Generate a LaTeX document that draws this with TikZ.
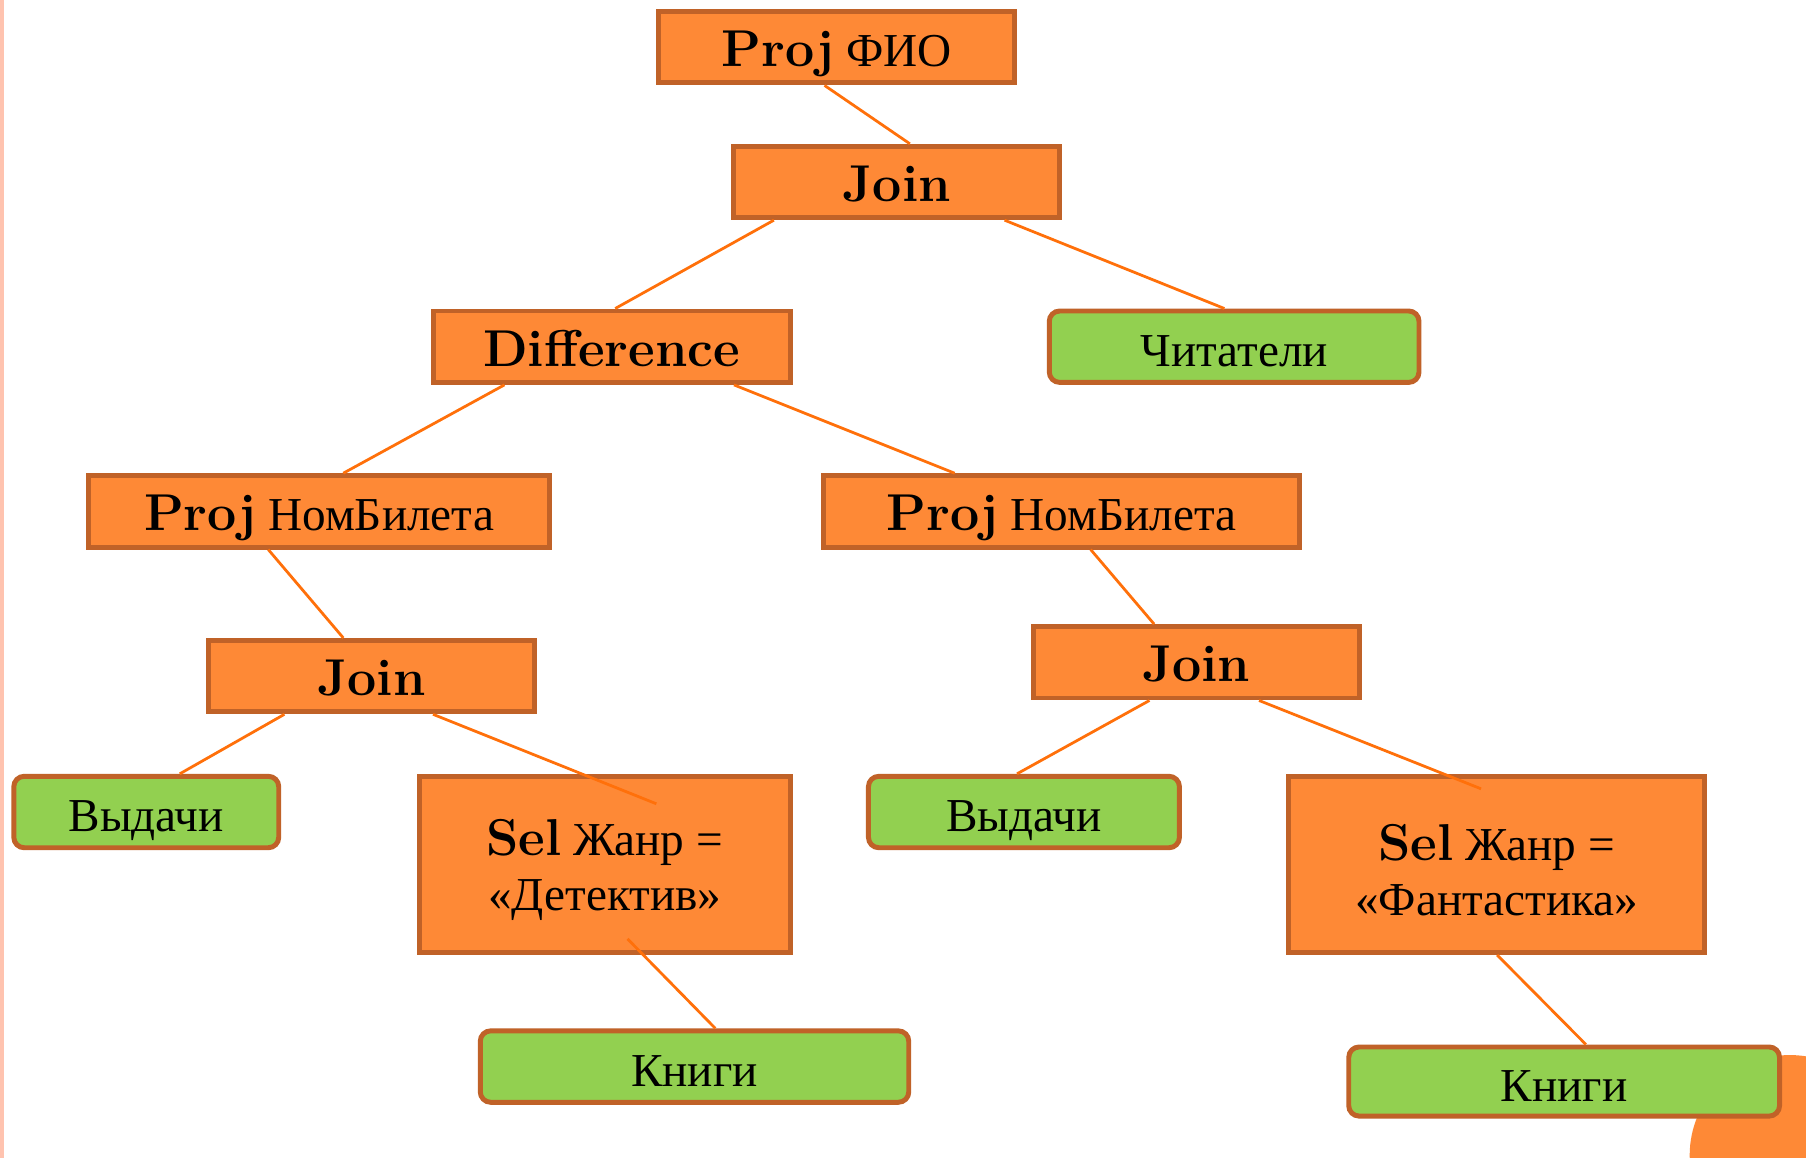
\documentclass[tikz,border=0pt]{standalone}
\usepackage{fontspec}
\newfontfamily\cyr{Liberation Serif}
\usetikzlibrary{calc}
\definecolor{boxorange}{RGB}{254,137,54}
\definecolor{boxgreen}{RGB}{146,208,80}
\definecolor{boxedge}{RGB}{192,98,40}
\definecolor{linkc}{RGB}{255,112,10}
\definecolor{stripc}{RGB}{255,195,175}
\newcommand{\bt}[1]{{\fontsize{45}{50}\selectfont\rmfamily\bfseries #1}}
\tikzset{
  boxbase/.style={draw=boxedge, line width=4.3pt, inner sep=0pt, align=center, text=black,
    font=\fontsize{41}{48}\selectfont\cyr},
  oneline/.style={text height=42pt, text depth=8pt},
  opbox/.style={boxbase, fill=boxorange},
  relbox/.style={boxbase, fill=boxgreen, rounded corners=9pt, oneline},
  link/.style={draw=linkc, line width=2.4pt}
}
\begin{document}
\begin{tikzpicture}[x=1pt,y=-1pt]
\useasboundingbox (0,0) rectangle (1568,1005);
\fill[white] (0,0) rectangle (1568,1005);
\fill[stripc] (0,0) rectangle (3.5,1005);
\begin{scope}
\clip (0,0) rectangle (1568,1005);
\fill[boxorange] (1554,1003) circle (87);
\end{scope}

\node[opbox, oneline, minimum width=309, minimum height=62] (projfio) at (726.5,41) {\bt{Proj} ФИО};
\node[opbox, oneline, minimum width=283, minimum height=62] (join1) at (778.5,158) {\bt{Join}};
\node[opbox, oneline, minimum width=310, minimum height=62] (diff) at (531,301) {\bt{Difference}};
\node[relbox, minimum width=321, minimum height=62] (chit) at (1071.5,301) {Читатели};
\node[opbox, oneline, minimum width=400, minimum height=62] (projl) at (277,444) {\bt{Proj} НомБилета};
\node[opbox, oneline, minimum width=413, minimum height=62] (projr) at (921.5,444) {\bt{Proj} НомБилета};
\node[opbox, oneline, minimum width=283, minimum height=62] (joinl) at (322.5,587) {\bt{Join}};
\node[opbox, oneline, minimum width=283, minimum height=62] (joinr) at (1038.5,575) {\bt{Join}};
\node[relbox, minimum width=230, minimum height=62] (vydl) at (127,705) {Выдачи};
\node[opbox, minimum width=322, minimum height=153] (seld) at (525,750.5) {\rule{0pt}{41pt}\bt{Sel} Жанр =\\ «Детектив»};
\node[relbox, minimum width=270, minimum height=62] (vydr) at (889,705) {Выдачи};
\node[opbox, minimum width=361, minimum height=153] (self) at (1299.5,750.5) {\rule{0pt}{41pt}\bt{Sel} Жанр =\\ «Фантастика»};
\node[relbox, minimum width=372, minimum height=62] (knigil) at (603,926) {Книги};
\node[relbox, minimum width=374, minimum height=60] (knigir) at (1358,939) {Книги};

\coordinate (seldin) at ($(seld.north west)+(208,26)$);
\coordinate (seldout) at ($(seld.south west)+(183,-14)$);
\coordinate (selfin) at ($(self.north west)+(169,13)$);

\path[link] ($(projfio.south west)!0.466!(projfio.south east)$) -- ($(join1.north west)!0.54!(join1.north east)$);
\path[link] ($(join1.south west)!0.129!(join1.south east)$) -- ($(diff.north west)!0.51!(diff.north east)$);
\path[link] ($(join1.south west)!0.826!(join1.south east)$) -- ($(chit.north west)!0.474!(chit.north east)$);
\path[link] ($(diff.south west)!0.204!(diff.south east)$) -- ($(projl.north west)!0.552!(projl.north east)$);
\path[link] ($(diff.south west)!0.838!(diff.south east)$) -- ($(projr.north west)!0.278!(projr.north east)$);
\path[link] ($(projl.south west)!0.391!(projl.south east)$) -- ($(joinl.north west)!0.415!(joinl.north east)$);
\path[link] ($(projr.south west)!0.561!(projr.south east)$) -- ($(joinr.north west)!0.373!(joinr.north east)$);
\path[link] ($(joinl.south west)!0.237!(joinl.south east)$) -- ($(vydl.north west)!0.624!(vydl.north east)$);
\path[link] ($(joinl.south west)!0.686!(joinl.south east)$) -- (seldin);
\path[link] (seldout) -- ($(knigil.north west)!0.548!(knigil.north east)$);
\path[link] ($(joinr.south west)!0.359!(joinr.south east)$) -- ($(vydr.north west)!0.478!(vydr.north east)$);
\path[link] ($(joinr.south west)!0.69!(joinr.south east)$) -- (selfin);
\path[link] ($(self.south west)!0.501!(self.south east)$) -- ($(knigir.north west)!0.55!(knigir.north east)$);
\end{tikzpicture}
\end{document}
